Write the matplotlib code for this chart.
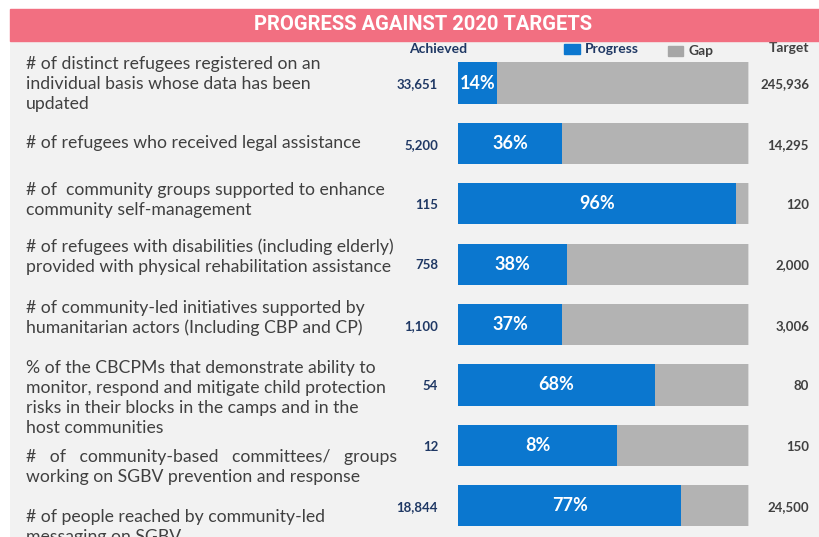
import matplotlib
matplotlib.use('Agg')
import matplotlib.pyplot as plt
from matplotlib.patches import Rectangle
from matplotlib import font_manager

indicators = [
    "# of distinct refugees registered on an\nindividual basis whose data has been\nupdated",
    "# of refugees who received legal assistance",
    "# of  community groups supported to enhance\ncommunity self-management",
    "# of refugees with disabilities (including elderly)\nprovided with physical rehabilitation assistance",
    "# of community-led initiatives supported by\nhumanitarian actors (Including CBP and CP)",
    "% of the CBCPMs that demonstrate ability to\nmonitor, respond and mitigate child protection\nrisks in their blocks in the camps and in the\nhost communities",
    "#   of   community-based   committees/   groups\nworking on SGBV prevention and response",
    "# of people reached by community-led\nmessaging on SGBV",
]
achieved = ["33,651", "5,200", "115", "758", "1,100", "54", "12", "18,844"]
targets = ["245,936", "14,295", "120", "2,000", "3,006", "80", "150", "24,500"]
pct_labels = ["14%", "36%", "96%", "38%", "37%", "68%", "8%", "77%"]
# bar lengths as drawn in the picture (%)
progress = [13.5, 36, 96, 37.6, 36, 68, 55, 77]

names = {f.name for f in font_manager.fontManager.ttflist}
narrow = 'Liberation Sans Narrow' if 'Liberation Sans Narrow' in names else 'Roboto'
plt.rcParams['font.family'] = ['Lato', 'DejaVu Sans']

W, H = 820, 537
fig = plt.figure(figsize=(W / 100, H / 100), dpi=100)
fig.patch.set_facecolor('white')

# header band
fig.patches.append(Rectangle((10 / W, 1 - 41 / H), 1 - 10 / W, 32 / H,
                             transform=fig.transFigure, color='#f26f81', zorder=0))
fig.text(423 / W, 1 - 25 / H, "PROGRESS AGAINST 2020 TARGETS", color='white',
         fontsize=14.5, fontweight='bold', ha='center', va='center', family=[narrow, 'DejaVu Sans'])

# main panel axes in pixel-ish data coords
x0, px = 458, 2.9
y0, py = 83, 60.4
ax = fig.add_axes([10 / W, 0, 1 - 10 / W, (H - 41) / H])
ax.set_facecolor('#f2f2f2')
ax.set_xlim((10 - x0) / px, (W - x0) / px)
ax.set_ylim((H - y0) / py, (41 - y0) / py)
for s in ax.spines.values():
    s.set_visible(False)
ax.set_xticks([])
ax.set_yticks([])

rows = range(len(progress))
gap = [100 - p for p in progress]
ax.barh(rows, [100] * len(progress), height=0.68, left=0.4, color='#d9d9d9', zorder=1)
ax.barh(rows, progress, height=0.68, color='#0b77cf', zorder=3)
ax.barh(rows, gap, left=progress, height=0.68, color='#b3b3b3', zorder=2)

label_off = [0.017, 0, -0.063, -0.119, -0.109, 0.215, 0.358, 0.351]
for i in rows:
    ax.text((26 - x0) / px, i + label_off[i], indicators[i], fontsize=12.7, color='#404040',
            ha='left', va='center', linespacing=1.3)
    ax.text((438 - x0) / px, i + 0.02, achieved[i], fontsize=9.5, fontweight='bold',
            color='#1f3864', ha='right', va='center')
    ax.text((809 - x0) / px, i + 0.02, targets[i], fontsize=9.5, fontweight='bold',
            color='#404040', ha='right', va='center')
    ax.text(progress[i] / 2, i, pct_labels[i], fontsize=13, fontweight='bold',
            color='white', ha='center', va='center', zorder=4)

# column headers and legend
hy = (49 - y0) / py
ax.text((438 - x0) / px, hy, "Achieved", fontsize=10, fontweight='bold', color='#1f3864',
        ha='center', va='center')
ax.text((809 - x0) / px, (48 - y0) / py, "Target", fontsize=10, fontweight='bold',
        color='#404040', ha='right', va='center')
ax.add_patch(Rectangle(((564 - x0) / px, (44 - y0) / py), 16 / px, 10 / py,
                       color='#0b77cf', clip_on=False))
ax.text((585 - x0) / px, hy, "Progress", fontsize=10, fontweight='bold', color='#1f3864',
        ha='left', va='center')
ax.add_patch(Rectangle(((668 - x0) / px, (46 - y0) / py), 15 / px, 10 / py,
                       color='#a6a6a6', clip_on=False))
ax.text((689 - x0) / px, (51 - y0) / py, "Gap", fontsize=10, fontweight='bold', color='#404040',
        ha='left', va='center')

fig.savefig('out.png', dpi=100)
